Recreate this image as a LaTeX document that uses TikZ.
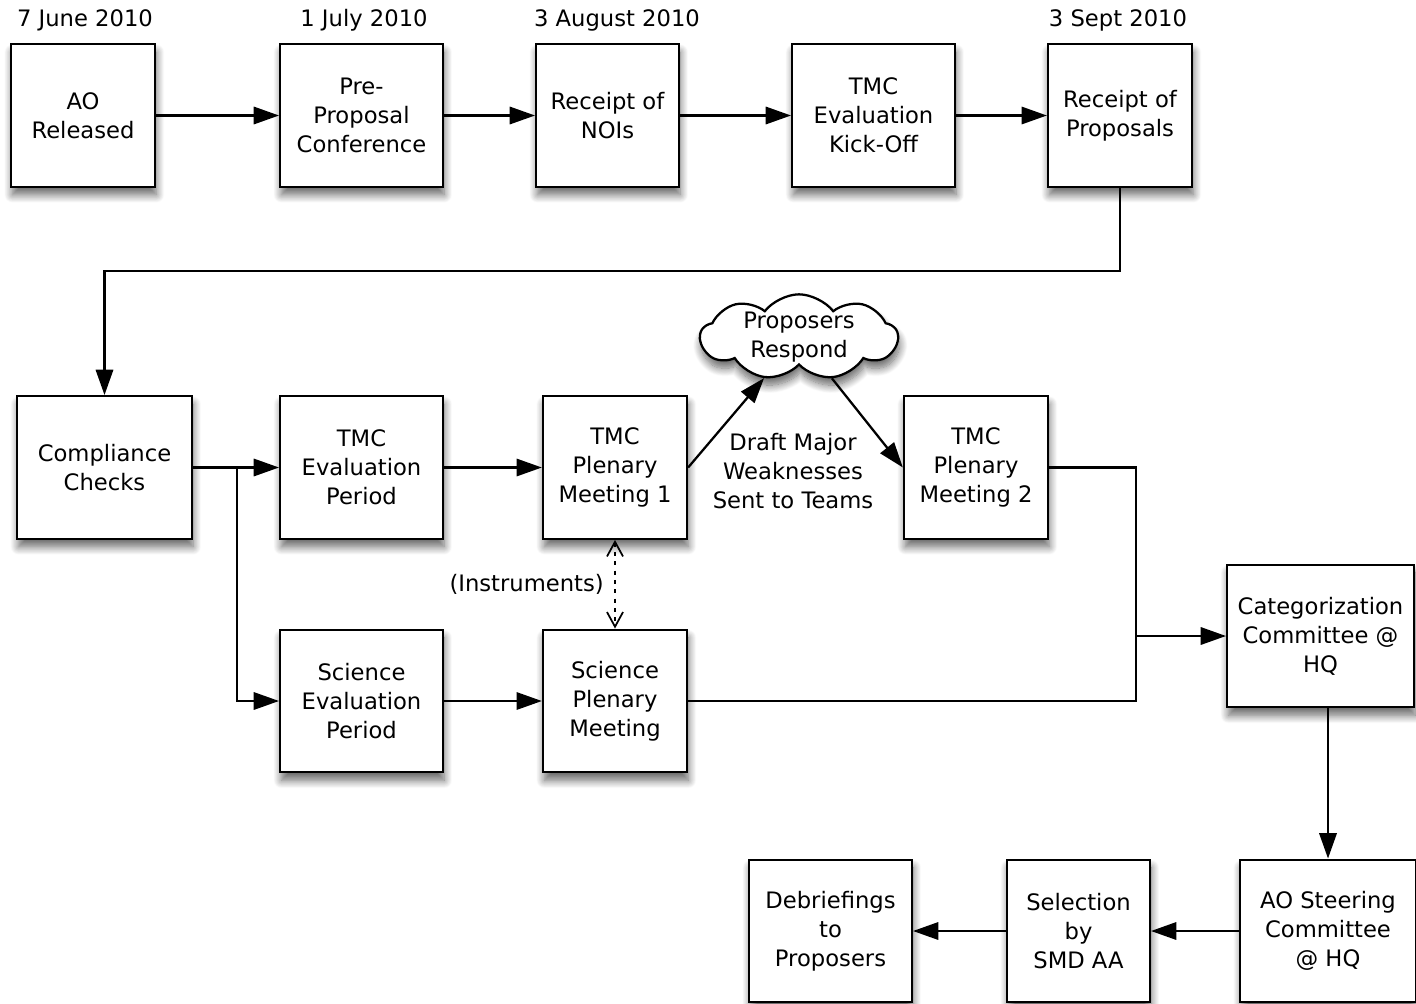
\documentclass[tikz,border=0pt]{standalone}
\usepackage{fontspec}
\setmainfont{DejaVu Sans}
\usetikzlibrary{arrows.meta,shapes.symbols,shadows.blur}

\tikzset{
  box/.style={draw, line width=1.7pt, fill=white, align=center, inner sep=0pt,
    minimum height=107pt, font=\fontsize{17}{21.75}\selectfont,
    blur shadow={shadow xshift=1pt, shadow yshift=-6pt, shadow blur radius=6pt, shadow blur steps=12, shadow opacity=60}},
  conn/.style={line width=1.7pt, -{Triangle[length=19pt,width=13pt]}},
  wire/.style={line width=1.7pt},
  date/.style={font=\fontsize{17}{21.75}\selectfont, inner sep=0pt},
  note/.style={font=\fontsize{17}{21.75}\selectfont, align=center, inner sep=0pt},
}

\begin{document}
\begin{tikzpicture}[x=0.75pt,y=0.75pt,yscale=-1,xscale=1]
    \useasboundingbox (0,0) rectangle (1416,1003);

    % Top row
    \node[box, minimum width=108pt] (ao) at (83,115.5) {AO\\Released};
    \node[box, minimum width=122pt] (pre) at (361.5,115.5) {Pre-\\Proposal\\Conference};
    \node[box, minimum width=107pt] (noi) at (607.5,115.5) {Receipt of\\NOIs};
    \node[box, minimum width=122pt] (kick) at (873.5,115.5) {TMC\\Evaluation\\Kick-Off};
    \node[box, minimum width=108pt] (rprop) at (1120,115.5) {Receipt of\\Proposals};

    % Dates
    \node[date] (d1) at (85,20) {7 June 2010};
    \node[date] (d2) at (364,20) {1 July 2010};
    \node[date] (d3) at (617,20) {3 August 2010};
    \node[date] (d4) at (1118,20) {3 Sept 2010};

    % Middle rows
    \node[box, minimum width=131pt] (comp) at (104.5,467.5) {Compliance\\Checks};
    \node[box, minimum width=122pt] (tmceval) at (361.5,467.5) {TMC\\Evaluation\\Period};
    \node[box, minimum width=108pt] (plen1) at (615,467.5) {TMC\\Plenary\\Meeting 1};
    \node[box, minimum width=108pt] (plen2) at (976,467.5) {TMC\\Plenary\\Meeting 2};
    \node[cloud, draw, line width=1.7pt, fill=white, cloud puffs=9, cloud puff arc=105,
      cloud ignores aspect, minimum width=148pt, minimum height=64pt, inner sep=-7pt, align=center,
      font=\fontsize{17}{21.75}\selectfont,
      blur shadow={shadow xshift=1pt, shadow yshift=-6pt, shadow blur radius=6pt, shadow blur steps=12, shadow opacity=60}]
      (resp) at (799,337) {Proposers\\Respond};
    \node[box, minimum width=122pt] (scieval) at (361.5,701) {Science\\Evaluation\\Period};
    \node[box, minimum width=108pt] (sciplen) at (615,701) {Science\\Plenary\\Meeting};

    % Right and bottom
    \node[box, minimum width=140pt] (cat) at (1320.5,636) {Categorization\\Committee @\\HQ};
    \node[box, minimum width=132pt] (steer) at (1328,931) {AO Steering\\Committee\\@ HQ};
    \node[box, minimum width=107pt] (sel) at (1078.5,931) {Selection\\by\\SMD AA};
    \node[box, minimum width=122pt] (debr) at (830.5,931) {Debriefings\\to\\Proposers};

    % Labels
    \node[note] (draft) at (793,471) {Draft Major\\Weaknesses\\Sent to Teams};
    \node[note, anchor=east] (instr) at (604,584) {(Instruments)};

    \coordinate (split) at (237,467.5);
    \coordinate (join) at (1136,636);

    % Connectors
    \draw[conn] (ao) -- (pre);
    \draw[conn] (pre) -- (noi);
    \draw[conn] (noi) -- (kick);
    \draw[conn] (kick) -- (rprop);
    \draw[conn] (rprop.south) -- ++(0,83) -| (comp.north);
    \draw[conn] (comp) -- (tmceval);
    \draw[conn] (split) |- (scieval.west);
    \draw[conn] (tmceval) -- (plen1);
    \draw[conn] (scieval) -- (sciplen);
    \draw[conn] (plen1.east) -- (resp);
    \draw[conn] (resp) -- (plen2.west);
    \draw[wire] (plen2.east) -| (join);
    \draw[wire] (sciplen.east) -| (join);
    \draw[conn] (join) -- (cat.west);
    \draw[conn] (steer.north |- cat.south) -- (steer.north);
    \draw[conn] (steer) -- (sel);
    \draw[conn] (sel) -- (debr);
    \draw[line width=1.3pt, dash pattern=on 3pt off 4pt,
      {Straight Barb[length=11pt,width=12pt]}-{Straight Barb[length=11pt,width=12pt]}]
      (plen1.south) -- (sciplen.north);

\end{tikzpicture}
\end{document}
